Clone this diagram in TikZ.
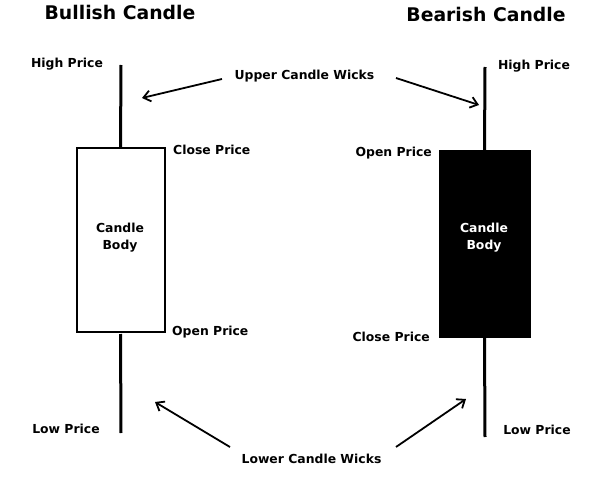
\documentclass[tikz,border=0pt]{standalone}
\usepackage{fontspec}
\setmainfont{DejaVu Sans}
\usetikzlibrary{arrows.meta}
\begin{document}
\begin{tikzpicture}[x=1pt,y=-1pt,
  lbl/.style={font=\bfseries\fontsize{12.4}{14}\selectfont, inner sep=0pt},
  ttl/.style={font=\bfseries\fontsize{18.8}{22}\selectfont, inner sep=0pt},
  bodytxt/.style={font=\bfseries\fontsize{12.4}{17}\selectfont, inner sep=0pt, align=center},
  wick/.style={line width=3pt},
  arr/.style={line width=1.8pt, -{Straight Barb[length=7pt,width=11pt,line width=1.8pt]}},
  bullbox/.style={draw, line width=2pt, fill=white, minimum width=88pt, minimum height=183pt, inner sep=0pt},
  bearbox/.style={draw, line width=0pt, fill=black, minimum width=91pt, minimum height=186pt, inner sep=0pt}]
\useasboundingbox (0,0) rectangle (600,500);
\fill[white] (0,0) rectangle (600,500);
% titles
\node[ttl] (t1) at (120,12) {Bullish Candle};
\node[ttl] (t2) at (486,14) {Bearish Candle};
% bullish candle
\node[bullbox] (b1) at (120.5,240) {};
\node[bodytxt] (bt1) at (120,237.5) {Candle\\Body};
\coordinate (h1) at (121,65);
\coordinate (l1) at (121,433);
\draw[wick] (h1) -- (b1.north);
\draw[wick] (b1.south) ++(0,1.5) coordinate (b1s) (l1) -- (b1s);
% bearish candle
\node[bearbox] (b2) at (484.5,244) {};
\node[bodytxt, text=white] (bt2) at (484,237.5) {Candle\\Body};
\coordinate (h2) at (485,67);
\coordinate (l2) at (485,437);
\draw[wick] (h2) -- (b2.north);
\draw[wick] (b2.south) -- (l2);
% labels
\node[lbl] (hp1) at (67,64) {High Price};
\node[lbl, anchor=west] (cp1) at (173,150) {Close Price};
\node[lbl, anchor=west] (op1) at (172,332) {Open Price};
\node[lbl] (lp1) at (66,429) {Low Price};
\node[lbl] (hp2) at (534,66) {High Price};
\node[lbl, anchor=east] (op2) at (432,153) {Open Price};
\node[lbl, anchor=east] (cp2) at (430,337) {Close Price};
\node[lbl] (lp2) at (537,430) {Low Price};
\node[lbl] (uw) at (304.5,76) {Upper Candle Wicks};
\node[lbl] (lw) at (311.5,459) {Lower Candle Wicks};
% arrows
\coordinate (ua1s) at (222,79);
\coordinate (ua1e) at (142,98);
\coordinate (ua2s) at (396,78);
\coordinate (ua2e) at (479,105);
\coordinate (la1s) at (230,447);
\coordinate (la1e) at (155,402);
\coordinate (la2s) at (396,447);
\coordinate (la2e) at (466,399);
\draw[arr] (ua1s) -- (ua1e);
\draw[arr] (ua2s) -- (ua2e);
\draw[arr] (la1s) -- (la1e);
\draw[arr] (la2s) -- (la2e);
\end{tikzpicture}
\end{document}
